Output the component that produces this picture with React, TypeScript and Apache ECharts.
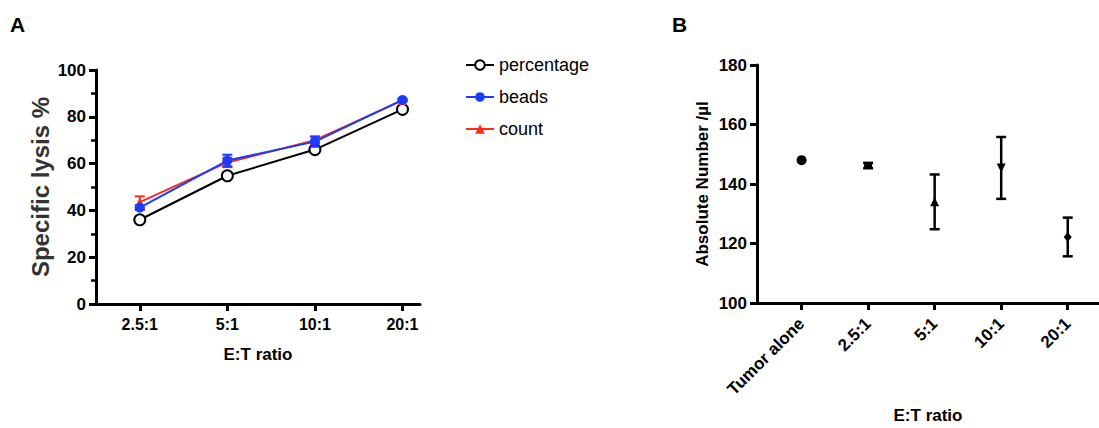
import React, { useEffect, useRef } from "react";
import * as echarts from "echarts";

const ratiosA = ["2.5:1", "5:1", "10:1", "20:1"];
const percentage = [36, 54.8, 66, 83.2];
const beads = [41.2, 61.3, 69.4, 87.2];
const beadsErr = [1, 2.5, 2.2, 0.5];
const count = [43.5, 60.5, 70, 87];
const countErr = [2.5, 2, 1.5, 0.5];
const ticksA = [0, 20, 40, 60, 80, 100];

const groupsB = ["Tumor alone", "2.5:1", "5:1", "10:1", "20:1"];
const meanB = [148, 146.2, 134, 145.4, 122.2];
const errB = [0, 0.9, 9.2, 10.4, 6.5];
const ticksB = [100, 120, 140, 160, 180];

const FONT = "Liberation Sans";

function errorBars(
  values: number[],
  errs: number[],
  color: string,
  xAxisIndex: number,
  yAxisIndex: number,
  cap: number,
  width: number,
  z: number
) {
  return {
    type: "custom",
    xAxisIndex,
    yAxisIndex,
    z,
    silent: true,
    encode: { x: 0, y: 1 },
    data: values.map((v, i) => [i, v, errs[i]]),
    renderItem: (params: any, api: any) => {
      const x = api.value(0);
      const y = api.value(1);
      const e = api.value(2);
      if (!e) return { type: "group", children: [] };
      const top = api.coord([x, y + e]);
      const bot = api.coord([x, y - e]);
      const st = { stroke: color, lineWidth: width };
      return {
        type: "group",
        children: [
          { type: "line", shape: { x1: top[0], y1: top[1], x2: bot[0], y2: bot[1] }, style: st },
          { type: "line", shape: { x1: top[0] - cap, y1: top[1], x2: top[0] + cap, y2: top[1] }, style: st },
          { type: "line", shape: { x1: bot[0] - cap, y1: bot[1], x2: bot[0] + cap, y2: bot[1] }, style: st },
        ],
      };
    },
  };
}

export default function App() {
  const ref = useRef<HTMLDivElement>(null);
  useEffect(() => {
    document.body.style.margin = "0";
    const chart = echarts.init(ref.current!, null, { renderer: "svg" });
    const idxA = ratiosA.map((_, i) => i);
    const idxB = groupsB.map((_, i) => i);
    const axisLine = { show: true, onZero: false, lineStyle: { color: "#000", width: 3 } };
    const tickStyle = { color: "#000", width: 3 };
    const labelStyle = { color: "#000", fontFamily: FONT, fontWeight: "bold" as const, fontSize: 17 };

    const option: any = {
      animation: false,
      backgroundColor: "#fff",
      textStyle: { fontFamily: FONT },
      graphic: [
        { type: "text", left: 10, top: 14, style: { text: "A", font: `bold 21px ${FONT}`, fill: "#000" } },
        { type: "text", left: 672, top: 14, style: { text: "B", font: `bold 21px ${FONT}`, fill: "#000" } },
      ],
      legend: {
        left: 460,
        top: 51,
        orient: "vertical",
        itemWidth: 28,
        itemHeight: 12,
        itemGap: 14,
        data: ["percentage", "beads", "count"],
        textStyle: { color: "#000", fontFamily: FONT, fontSize: 18 },
      },
      grid: [
        { left: 96, top: 70, width: 324, height: 234, outerBoundsMode: "none", containLabel: false },
        { left: 757, top: 65, width: 342, height: 238, outerBoundsMode: "none", containLabel: false },
      ],
      xAxis: [
        {
          gridIndex: 0,
          type: "value",
          min: -0.5,
          max: 3.2,
          splitLine: { show: false },
          axisLine,
          axisTick: { show: true, length: 7, lineStyle: tickStyle, customValues: idxA },
          axisLabel: {
            ...labelStyle,
            fontSize: 16,
            margin: 12,
            customValues: idxA,
            formatter: (v: number) => ratiosA[Math.round(v)] ?? "",
          },
          name: "E:T ratio",
          nameLocation: "middle",
          nameGap: 42,
          nameTextStyle: { color: "#000", fontFamily: FONT, fontWeight: "bold", fontSize: 17 },
        },
        {
          gridIndex: 1,
          type: "value",
          min: -0.67,
          max: 4.47,
          splitLine: { show: false },
          axisLine,
          axisTick: { show: true, length: 7, lineStyle: tickStyle, customValues: idxB },
          axisLabel: {
            ...labelStyle,
            fontSize: 17,
            rotate: 45,
            margin: 18,
            customValues: idxB,
            formatter: (v: number) => groupsB[Math.round(v)] ?? "",
          },
          name: "E:T ratio",
          nameLocation: "middle",
          nameGap: 104,
          nameTextStyle: { color: "#000", fontFamily: FONT, fontWeight: "bold", fontSize: 17 },
        },
      ],
      yAxis: [
        {
          gridIndex: 0,
          type: "value",
          min: ticksA[0],
          max: ticksA[ticksA.length - 1],
          interval: 20,
          splitLine: { show: false },
          axisLine,
          axisTick: { show: true, length: 7, lineStyle: tickStyle },
          minorTick: { show: true, splitNumber: 2, length: 5, lineStyle: { color: "#000", width: 2.5 } },
          axisLabel: { ...labelStyle, margin: 10 },
          name: "Specific lysis %",
          nameLocation: "middle",
          nameGap: 44,
          nameTextStyle: { color: "#333", fontFamily: FONT, fontWeight: "bold", fontSize: 24 },
        },
        {
          gridIndex: 1,
          type: "value",
          min: ticksB[0],
          max: ticksB[ticksB.length - 1],
          interval: 20,
          splitLine: { show: false },
          axisLine,
          axisTick: { show: true, length: 7, lineStyle: tickStyle },
          axisLabel: { ...labelStyle, margin: 10 },
          name: "Absolute Number /µl",
          nameLocation: "middle",
          nameGap: 46,
          nameTextStyle: { color: "#000", fontFamily: FONT, fontWeight: "bold", fontSize: 17 },
        },
      ],
      series: [
        {
          name: "percentage",
          type: "line",
          xAxisIndex: 0,
          yAxisIndex: 0,
          z: 2,
          data: percentage.map((v, i) => [i, v]),
          symbol: "emptyCircle",
          symbolSize: 11,
          color: "#000",
          lineStyle: { color: "#000", width: 2 },
          itemStyle: { color: "#000", borderWidth: 2 },
        },
        errorBars(count, countErr, "#ff2a1a", 0, 0, 5, 2, 3),
        {
          name: "count",
          type: "line",
          xAxisIndex: 0,
          yAxisIndex: 0,
          z: 3,
          data: count.map((v, i) => [i, v]),
          symbol: "triangle",
          symbolSize: 9,
          color: "#ff2a1a",
          lineStyle: { color: "#ff2a1a", width: 2 },
          itemStyle: { color: "#ff2a1a" },
        },
        errorBars(beads, beadsErr, "#1a3cff", 0, 0, 5, 2, 4),
        {
          name: "beads",
          type: "line",
          xAxisIndex: 0,
          yAxisIndex: 0,
          z: 4,
          data: beads.map((v, i) => [i, v]),
          symbol: "circle",
          symbolSize: 10,
          color: "#1a3cff",
          lineStyle: { color: "#1a3cff", width: 2 },
          itemStyle: { color: "#1a3cff" },
        },
        errorBars(meanB, errB, "#000", 1, 1, 5, 2.5, 5),
        {
          type: "scatter",
          xAxisIndex: 1,
          yAxisIndex: 1,
          z: 4,
          data: meanB.map((v, i) => ({
            value: [i, v],
            symbol: ["circle", "rect", "triangle", "triangle", "diamond"][i],
            symbolSize: [10, [8, 3], 9, 9, [8, 10]][i],
            symbolRotate: i === 3 ? 180 : 0,
          })),
          itemStyle: { color: "#000", opacity: 1 },
        },
      ],
    };
    chart.setOption(option);
    return () => chart.dispose();
  }, []);
  return <div ref={ref} style={{ width: 1099, height: 428 }} />;
}
